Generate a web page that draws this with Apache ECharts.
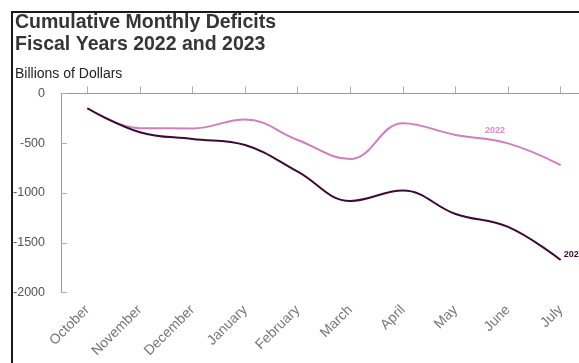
<!DOCTYPE html>
<html>
<head>
<meta charset="utf-8">
<script src="https://cdn.jsdelivr.net/npm/echarts@6/dist/echarts.min.js"></script>
<style>
  html, body { margin: 0; padding: 0; background: #fff; overflow: hidden; }
  /* the plot runs slightly past the right edge of the window */
  #chart { width: 592px; height: 363px; }
</style>
</head>
<body>
<div id="chart"></div>
<script>
// Fiscal-year months and cumulative deficits, billions of dollars
const months = ['October', 'November', 'December', 'January', 'February', 'March', 'April', 'May', 'June', 'July'];
const fy2022 = [-150, -350, -352, -262, -468, -660, -300, -418, -502, -720];
const fy2023 = [-150, -390, -458, -518, -786, -1080, -975, -1210, -1340, -1672];
const yMin = -2000, yMax = 0, yStep = 500;

const FONT = 'Arial, "Liberation Sans", sans-serif';
const PINK = '#cf7fc0';
const PLUM = '#3b0a35';

const chart = echarts.init(document.getElementById('chart'), null, { renderer: 'canvas' });

// the 2022 series carries its label above the June point
const fy2022Data = fy2022.map((v, i) => i === 8 ? {
  value: v,
  label: {
    show: true, formatter: '2022', position: 'top', distance: 5, offset: [-13, -3],
    color: '#d38bc6', fontSize: 9, fontWeight: 'bold', fontFamily: FONT
  }
} : v);

chart.setOption({
  animation: false,
  backgroundColor: '#fff',
  title: [{
    text: 'Cumulative Monthly Deficits\nFiscal Years 2022 and 2023',
    left: 15, top: 12, padding: 0,
    textStyle: { fontFamily: FONT, fontSize: 19.5, fontWeight: 'bold', color: '#353535', lineHeight: 21.5 }
  }, {
    text: 'Billions of Dollars',
    left: 15, top: 67, padding: 0,
    textStyle: { fontFamily: FONT, fontSize: 14, fontWeight: 'normal', color: '#222' }
  }],
  graphic: [{
    type: 'rect', silent: true, z: 100,
    shape: { x: 12, y: 12, width: 620, height: 420 },
    style: { fill: 'none', stroke: '#1a1a1a', lineWidth: 2 }
  }],
  grid: { left: 61, top: 93.3, width: 526, height: 199.4, containLabel: false },
  xAxis: {
    type: 'category',
    data: months,
    boundaryGap: true,
    axisLine: { show: true, lineStyle: { color: '#9a9a9a', width: 1 } },
    axisTick: { show: true, alignWithLabel: true, inside: true, length: 7, lineStyle: { color: '#b0b0b0' } },
    axisLabel: { rotate: 45, margin: 15, fontFamily: FONT, fontSize: 14, color: '#777', interval: 0 },
    splitLine: { show: false }
  },
  yAxis: {
    type: 'value',
    min: yMin, max: yMax, interval: yStep,
    axisLine: { show: true, lineStyle: { color: '#9a9a9a', width: 1 } },
    axisTick: { show: true, inside: true, length: 6, lineStyle: { color: '#b0b0b0' } },
    axisLabel: { margin: 16, fontFamily: FONT, fontSize: 12.5, color: '#555', formatter: v => String(v) },
    splitLine: { show: false }
  },
  series: [{
    name: '2022',
    type: 'line',
    data: fy2022Data,
    smooth: 0.4,
    symbol: 'circle',
    symbolSize: 0,
    showSymbol: true,
    lineStyle: { color: PINK, width: 2 },
    label: { show: false },
    z: 2
  }, {
    name: '2023',
    type: 'line',
    data: fy2023,
    smooth: 0.4,
    symbol: 'none',
    lineStyle: { color: PLUM, width: 2 },
    endLabel: {
      show: true, formatter: '2023', distance: 3, offset: [0, -5],
      color: PLUM, fontSize: 9, fontWeight: 'bold', fontFamily: FONT
    },
    z: 3
  }]
});
</script>
</body>
</html>
